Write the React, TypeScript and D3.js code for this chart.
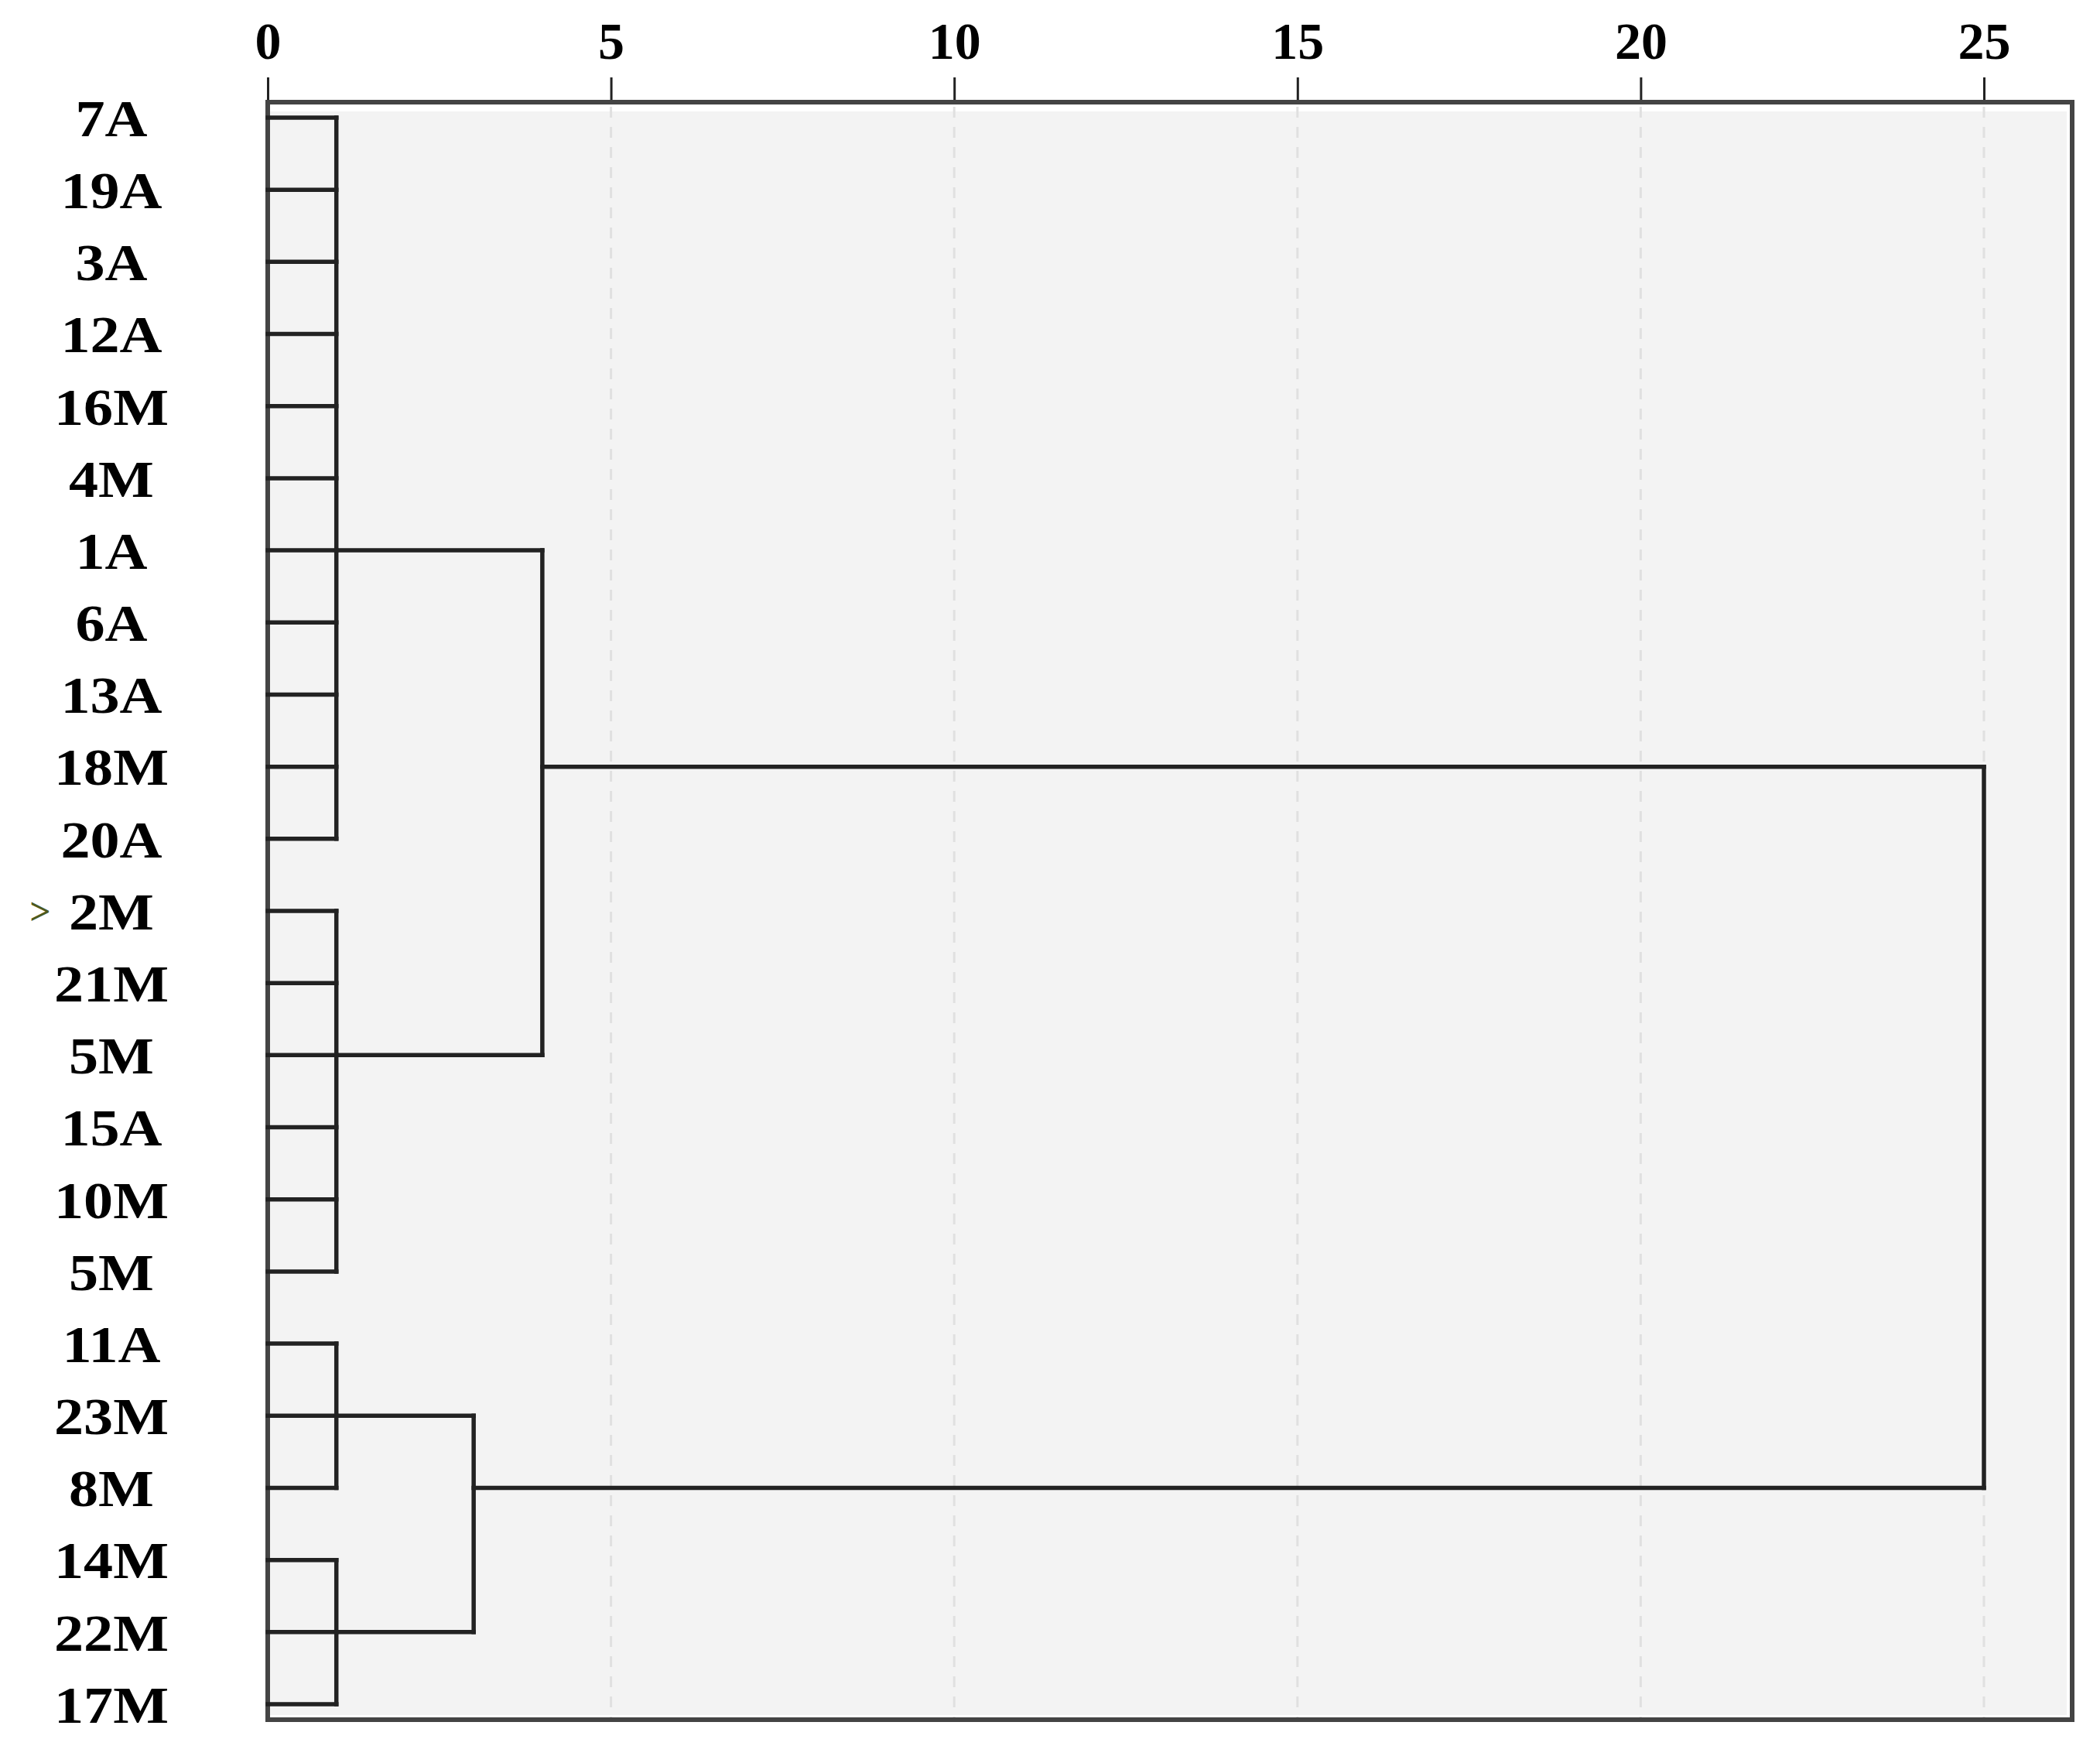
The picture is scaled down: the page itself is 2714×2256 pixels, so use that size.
import React, { useEffect, useRef } from 'react';
import * as d3 from 'd3';

// leaves, top to bottom
const leafLabels = [
  '7A', '19A', '3A', '12A', '16M', '4M', '1A', '6A', '13A', '18M', '20A',
  '2M', '21M', '5M', '15A', '10M', '5M',
  '11A', '23M', '8M',
  '14M', '22M', '17M',
];
const markedRows = [11];
const tickValues = [0, 5, 10, 15, 20, 25];

// first level groups (leaf row ranges) and the distance they join at
const groupFirst = [0, 11, 17, 20];
const groupLast = [10, 16, 19, 22];
const groupDistance = [1, 1, 1, 1];
const groupExitRow = [6, 13, 18, 21];

// second level: pairs of groups
const pairMembers = [[0, 1], [2, 3]];
const pairDistance = [4, 3];
const pairExitRow = [9, 19];

const rootDistance = 25;

const W = 2714;
const H = 2256;
const serif = '"Liberation Serif", "Times New Roman", serif';

export default function App() {
  const ref = useRef<SVGSVGElement>(null);

  useEffect(() => {
    const svg = d3.select(ref.current);
    svg.selectAll('*').remove();

    const left = 346;
    const right = 2678;
    const top = 132;
    const bottom = 2222;

    const x = d3.scaleLinear().domain([0, 25]).range([left, 2564]);
    const y = d3
      .scalePoint<number>()
      .domain(d3.range(leafLabels.length))
      .range([152, 2202]);

    svg.append('rect').attr('width', W).attr('height', H).attr('fill', '#fff');

    // grey plot area, slightly inset from the frame
    svg
      .append('rect')
      .attr('x', left + 3)
      .attr('y', top + 12)
      .attr('width', right - left - 10)
      .attr('height', bottom - top - 18)
      .attr('fill', '#f3f3f3');

    // dashed grid
    svg
      .append('g')
      .selectAll('line')
      .data(tickValues.filter((d) => d > 0))
      .enter()
      .append('line')
      .attr('x1', (d) => x(d))
      .attr('x2', (d) => x(d))
      .attr('y1', top + 6)
      .attr('y2', bottom)
      .attr('stroke', '#e0e0e0')
      .attr('stroke-width', 3)
      .attr('stroke-dasharray', '14 12');

    // top axis
    const axis = d3.axisTop(x).tickValues(tickValues).tickSize(32).tickPadding(24);
    const ax = svg
      .append('g')
      .attr('transform', 'translate(0,' + top + ')')
      .call(axis);
    ax.select('.domain').remove();
    ax.selectAll('.tick line').attr('stroke', '#222').attr('stroke-width', 3);
    ax.selectAll('.tick text')
      .attr('fill', '#000')
      .style('font-family', serif)
      .style('font-weight', 'bold')
      .style('font-size', '68px');

    // frame
    svg
      .append('rect')
      .attr('x', left)
      .attr('y', top)
      .attr('width', right - left)
      .attr('height', bottom - top)
      .attr('fill', 'none')
      .attr('stroke', '#444')
      .attr('stroke-width', 6);

    const lines = svg
      .append('g')
      .attr('stroke', '#222')
      .attr('stroke-width', 5.5)
      .attr('stroke-linecap', 'square');

    const seg = (x1: number, y1: number, x2: number, y2: number) =>
      lines.append('line').attr('x1', x1).attr('y1', y1).attr('x2', x2).attr('y2', y2);

    groupFirst.forEach((first, g) => {
      const d = groupDistance[g];
      for (let r = first; r <= groupLast[g]; r++) {
        seg(x(0), y(r)!, x(d), y(r)!);
      }
      seg(x(d), y(first)!, x(d), y(groupLast[g])!);
    });

    pairMembers.forEach((members, p) => {
      const pd = pairDistance[p];
      members.forEach((g) => {
        seg(x(groupDistance[g]), y(groupExitRow[g])!, x(pd), y(groupExitRow[g])!);
      });
      seg(x(pd), y(groupExitRow[members[0]])!, x(pd), y(groupExitRow[members[1]])!);
      seg(x(pd), y(pairExitRow[p])!, x(rootDistance), y(pairExitRow[p])!);
    });
    seg(x(rootDistance), y(pairExitRow[0])!, x(rootDistance), y(pairExitRow[1])!);

    // leaf labels (slightly widened like the source)
    svg
      .append('g')
      .selectAll('text')
      .data(leafLabels)
      .enter()
      .append('text')
      .attr('transform', (d, i) => 'translate(144,' + y(i) + ') scale(1.12,1)')
      .attr('dy', '0.35em')
      .attr('text-anchor', 'middle')
      .style('font-family', serif)
      .style('font-weight', 'bold')
      .style('font-size', '68px')
      .attr('fill', '#000')
      .text((d) => d);

    svg
      .append('g')
      .selectAll('text')
      .data(markedRows)
      .enter()
      .append('text')
      .attr('x', 52)
      .attr('y', (d) => y(d)!)
      .attr('dy', '0.35em')
      .attr('text-anchor', 'middle')
      .style('font-family', serif)
      .style('font-weight', 'bold')
      .style('font-size', '48px')
      .attr('fill', '#4d5a1e')
      .text('>');
  }, []);

  return (
    <svg
      ref={ref}
      width={W}
      height={H}
      style={{ position: 'absolute', left: 0, top: 0, display: 'block' }}
    />
  );
}
